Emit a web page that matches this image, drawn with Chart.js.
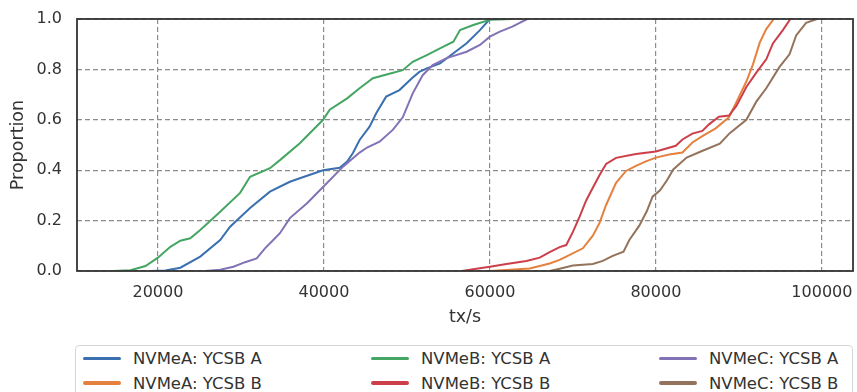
<!DOCTYPE html>
<html>
<head>
<meta charset="utf-8">
<script src="https://cdn.jsdelivr.net/npm/chart.js@4.4.1/dist/chart.umd.min.js"></script>
<style>
  html, body { margin: 0; padding: 0; background: #fff; overflow: hidden; }
  #wrap { position: relative; width: 857px; height: 392px; }
  #legend {
    position: absolute; left: 75px; top: 345px; width: 778px; height: 62px;
    border: 1px solid #d6d6d6; border-radius: 4px; box-sizing: border-box; background: #fff;
  }
  .item {
    position: absolute; display: flex; align-items: center; height: 20px;
    font-family: "DejaVu Sans"; font-size: 16.5px; color: #333; white-space: nowrap;
  }
  .swatch { display: inline-block; width: 38px; height: 3.5px; border-radius: 2px; margin-right: 12px; }
</style>
</head>
<body>
<div id="wrap">
  <canvas id="ecdf" width="857" height="392"></canvas>
  <div id="legend"></div>
</div>
<script>
// ECDF podaci (tx/s -> udio), procijenjeno s grafa
const seriesLabels = ['NVMeA: YCSB A', 'NVMeA: YCSB B', 'NVMeB: YCSB A', 'NVMeB: YCSB B', 'NVMeC: YCSB A', 'NVMeC: YCSB B'];
const seriesColors = ['#3a70b0', '#e5813f', '#45a562', '#cc3f4a', '#8372b6', '#93735c'];

const nvmeA_ycsbA_tx = [19100, 20900, 22700, 25100, 27500, 28700, 31100, 33500, 35900, 37100, 39900, 41900, 42800, 43500, 44300, 45500, 46300, 47500, 49100, 50600, 51500, 52400, 54000, 55600, 57200, 58800, 60000];
const nvmeA_ycsbA_p = [0, 0.002, 0.013, 0.057, 0.123, 0.176, 0.25, 0.315, 0.354, 0.368, 0.4, 0.41, 0.434, 0.468, 0.52, 0.573, 0.626, 0.692, 0.718, 0.765, 0.79, 0.804, 0.824, 0.864, 0.904, 0.956, 1.0];

const nvmeA_ycsbB_tx = [60000, 64800, 67200, 68400, 69200, 71200, 72400, 73200, 74000, 75200, 76400, 77600, 78800, 80000, 81600, 83200, 84400, 85600, 87200, 88800, 89700, 90900, 91700, 92500, 93300, 94200];
const nvmeA_ycsbB_p = [0, 0.01, 0.03, 0.044, 0.057, 0.09, 0.14, 0.19, 0.262, 0.35, 0.397, 0.417, 0.435, 0.45, 0.462, 0.47, 0.51, 0.535, 0.566, 0.61, 0.67, 0.752, 0.82, 0.905, 0.96, 1.0];

const nvmeB_ycsbA_tx = [14600, 16700, 18500, 20000, 21500, 22700, 23900, 25100, 27500, 29900, 31100, 33500, 34700, 37100, 39900, 40700, 42800, 44300, 45900, 48000, 49500, 50700, 52400, 54400, 55600, 56400, 58000, 60000, 62600];
const nvmeB_ycsbA_p = [0, 0.003, 0.02, 0.053, 0.096, 0.12, 0.13, 0.163, 0.235, 0.31, 0.374, 0.408, 0.44, 0.507, 0.6, 0.64, 0.685, 0.725, 0.765, 0.784, 0.797, 0.83, 0.857, 0.89, 0.91, 0.956, 0.976, 0.997, 1.0];

const nvmeB_ycsbB_tx = [56600, 60000, 62000, 64400, 66000, 67200, 68400, 69200, 70000, 70800, 71600, 72400, 73200, 74000, 75200, 77600, 80000, 82400, 83200, 84400, 85600, 86400, 87600, 88800, 89700, 90900, 92100, 93300, 94100, 95300, 96200];
const nvmeB_ycsbB_p = [0, 0.017, 0.028, 0.04, 0.053, 0.075, 0.095, 0.103, 0.155, 0.215, 0.28, 0.33, 0.38, 0.425, 0.449, 0.464, 0.474, 0.497, 0.522, 0.545, 0.556, 0.582, 0.612, 0.617, 0.655, 0.73, 0.787, 0.84, 0.903, 0.956, 1.0];

const nvmeC_ycsbA_tx = [25700, 27500, 29100, 30500, 31900, 32900, 33900, 34700, 35900, 38000, 40400, 42300, 44300, 45200, 46700, 48300, 49500, 50700, 51900, 53100, 54800, 57200, 58800, 60000, 61200, 62700, 64500];
const nvmeC_ycsbA_p = [0, 0.005, 0.017, 0.035, 0.05, 0.09, 0.123, 0.15, 0.21, 0.27, 0.35, 0.414, 0.47, 0.49, 0.513, 0.56, 0.61, 0.705, 0.777, 0.817, 0.845, 0.87, 0.897, 0.93, 0.95, 0.97, 1.0];

const nvmeC_ycsbB_tx = [67200, 68400, 70000, 72400, 73600, 74800, 76100, 76800, 78000, 78900, 79600, 80500, 81300, 82100, 83700, 85700, 87700, 88900, 90900, 92100, 93300, 94900, 96100, 96900, 98100, 99400];
const nvmeC_ycsbB_p = [0, 0.009, 0.022, 0.028, 0.04, 0.06, 0.077, 0.123, 0.18, 0.237, 0.295, 0.32, 0.358, 0.403, 0.45, 0.478, 0.505, 0.547, 0.6, 0.672, 0.725, 0.81, 0.86, 0.935, 0.985, 1.0];

const xTicks = [20000, 40000, 60000, 80000, 100000];
const yTicks = [0, 0.2, 0.4, 0.6, 0.8, 1.0];

const txLists = [nvmeA_ycsbA_tx, nvmeA_ycsbB_tx, nvmeB_ycsbA_tx, nvmeB_ycsbB_tx, nvmeC_ycsbA_tx, nvmeC_ycsbB_tx];
const pLists = [nvmeA_ycsbA_p, nvmeA_ycsbB_p, nvmeB_ycsbA_p, nvmeB_ycsbB_p, nvmeC_ycsbA_p, nvmeC_ycsbB_p];

Chart.defaults.font.family = '"DejaVu Sans"';
Chart.defaults.color = '#333';

// okvir oko podrucja grafa
const frame = {
    id: 'frame',
    afterDatasetsDraw(chart) {
        const a = chart.chartArea;
        const c = chart.ctx;
        c.save();
        c.strokeStyle = '#333';
        c.lineWidth = 1.8;
        c.strokeRect(a.left, a.top, a.right - a.left, a.bottom - a.top);
        c.restore();
    }
};

const chart = new Chart(document.getElementById('ecdf'), {
    type: 'line',
    data: {
        datasets: seriesLabels.map((label, i) => ({
            label: label,
            data: txLists[i].map((x, j) => ({ x: x, y: pLists[i][j] })),
            borderColor: seriesColors[i],
            backgroundColor: seriesColors[i],
            borderWidth: 2,
            pointRadius: 0,
            tension: 0,
            fill: false,
            order: 6 - i
        }))
    },
    options: {
        responsive: false,
        animation: false,
        devicePixelRatio: 1,
        layout: { padding: { left: 0, top: 19, right: 4, bottom: 59 } },
        plugins: { legend: { display: false }, tooltip: { enabled: false } },
        scales: {
            x: {
                type: 'linear',
                min: 10250,
                max: 103750,
                afterBuildTicks: s => { s.ticks = xTicks.map(v => ({ value: v })); },
                afterFit: s => { s.height = 62; s.paddingLeft = 0; s.paddingRight = 0; },
                ticks: { padding: 12, font: { size: 16 }, color: '#333', callback: v => String(v) },
                grid: { color: '#8c8c8c', lineWidth: 1.2, drawTicks: false },
                border: { display: false, dash: [5, 3] },
                title: { display: true, text: 'tx/s', font: { size: 17.5 }, color: '#333', padding: { top: 0, bottom: 5 } }
            },
            y: {
                min: 0,
                max: 1,
                afterBuildTicks: s => { s.ticks = yTicks.map(v => ({ value: v })); },
                afterFit: s => { s.width = 77; s.paddingTop = 0; s.paddingBottom = 0; },
                ticks: { padding: 15, font: { size: 16 }, color: '#333', callback: v => v.toFixed(1) },
                grid: { color: '#8c8c8c', lineWidth: 1.2, drawTicks: false },
                border: { display: false, dash: [5, 3] },
                title: { display: true, text: 'Proportion', font: { size: 17.5 }, color: '#333', padding: { top: 8, bottom: 0 } }
            }
        }
    },
    plugins: [frame]
});

// legenda: 3 stupca, 2 reda (kao u matplotlibu)
const legend = document.getElementById('legend');
chart.data.datasets.forEach((ds, i) => {
    const col = Math.floor(i / 2);
    const row = i % 2;
    const item = document.createElement('div');
    item.className = 'item';
    item.style.left = (7 + col * 288) + 'px';
    item.style.top = (row === 0 ? 2.3 : 27) + 'px';
    const sw = document.createElement('span');
    sw.className = 'swatch';
    sw.style.background = ds.borderColor;
    const txt = document.createElement('span');
    txt.textContent = ds.label;
    item.appendChild(sw);
    item.appendChild(txt);
    legend.appendChild(item);
});
</script>
</body>
</html>
